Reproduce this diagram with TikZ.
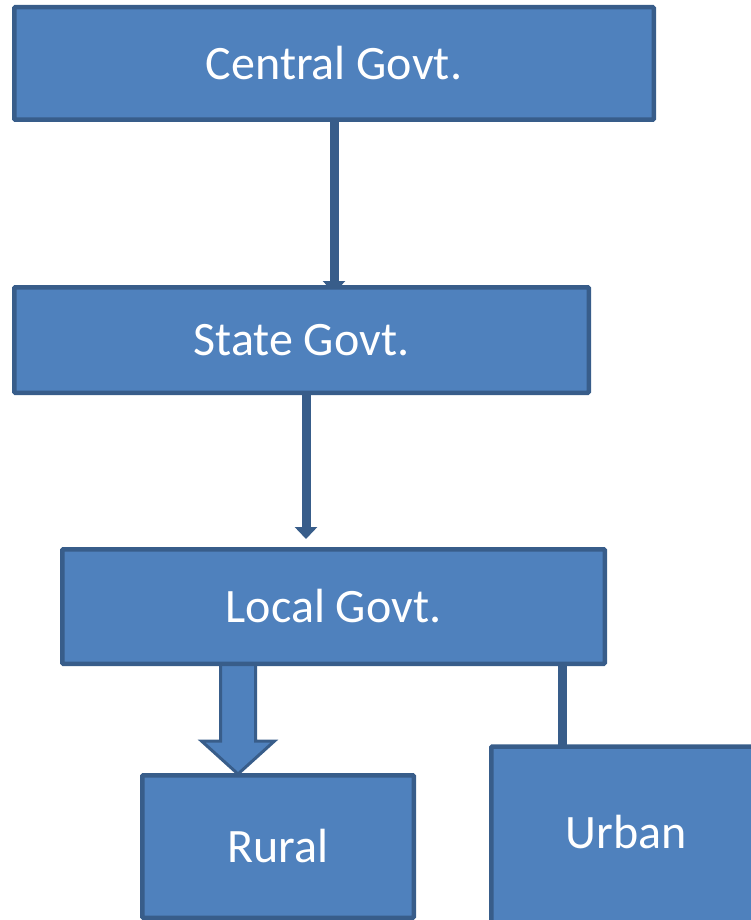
\documentclass[tikz,border=0pt]{standalone}
\usepackage{fontspec}
\setmainfont{Carlito}
\usetikzlibrary{arrows.meta,calc}
\definecolor{boxfill}{HTML}{4F81BD}
\definecolor{boxline}{HTML}{385D8A}
\tikzset{
  box/.style={draw=boxline, fill=boxfill, line width=4.5pt, rounded corners=1pt,
    inner sep=0pt, text=white, font=\fontsize{48}{57}\selectfont},
  txt/.style={text=white, inner sep=0pt, font=\fontsize{48}{57}\selectfont},
  conn/.style={draw=boxline, line width=9pt},
  thinarrow/.style={conn, -{Triangle[width=22pt,length=12pt]}},
  blockarrow/.style={draw=boxline, fill=boxfill, line width=3pt, line join=miter},
}
\begin{document}
\begin{tikzpicture}[x=1pt,y=-1pt]
\useasboundingbox (0,0) rectangle (750,920);
% coordinates for connector positions
\coordinate (a1top) at (334,118);
\coordinate (a1tip) at (334,293);
\coordinate (a2top) at (306,390);
\coordinate (a2tip) at (306,539);
\coordinate (bt) at (238,660);
\coordinate (bb) at (238,774);
\coordinate (utop) at (562.5,660);
\coordinate (ubot) at (562.5,746);
% connectors (drawn below boxes)
\draw[thinarrow] (a1top) -- (a1tip);
\draw[thinarrow] (a2top) -- (a2tip);
\draw[conn] (utop) -- (ubot);
% boxes
\node[box, minimum width=639.5, minimum height=112.5] (central) at (334,63.5) {Central Govt.};
\node[box, minimum width=574.5, minimum height=105.5] (state) at (301.5,340) {State Govt.};
\node[box, minimum width=271.5, minimum height=142.5] (rural) at (278,846.5) {Rural};
\node[box, minimum width=290, minimum height=210, anchor=north west] (urban) at (489,744.25) {};
\node[txt] (urbantext) at (626,832) {Urban};
% block arrow from local to rural
\draw[blockarrow]
  ($(bt)+(-17.5,0)$) -- ($(bt)+(17.5,0)$) -- ($(bb)+(17.5,-33)$) -- ($(bb)+(36.5,-33)$)
  -- (bb) -- ($(bb)+(-36.5,-33)$) -- ($(bb)+(-17.5,-33)$) -- cycle;
\node[box, minimum width=542.5, minimum height=114.5] (local) at (333.5,606.5) {Local Govt.};
\end{tikzpicture}
\end{document}
